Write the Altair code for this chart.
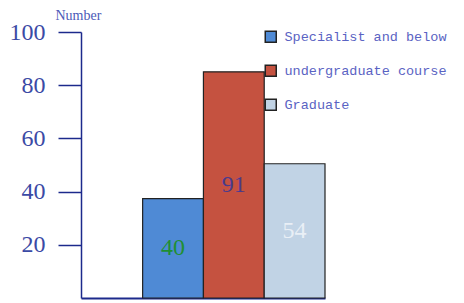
import altair as alt
import pandas as pd

categories = ["Specialist and below", "undergraduate course", "Graduate"]
values = [40, 91, 54]
label_text = ["40", "91", "54"]
tick_values = [20, 40, 60, 80, 100]

bar_colors = ["#4f8ad5", "#c55240", "#c1d3e5"]
label_colors = ["#1f8f33", "#4a3a8c", "#e9eff6"]

df = pd.DataFrame({"category": categories, "value": values, "label": label_text})
ticks_df = pd.DataFrame({"tick": tick_values})

x_enc = alt.X(
    "category:N",
    sort=categories,
    scale=alt.Scale(paddingInner=0, paddingOuter=0.507, align=1),
    axis=alt.Axis(title=None, labels=False, ticks=False, domainColor="#1c2a8c", domainWidth=2),
)

bars = alt.Chart(df).mark_bar(stroke="#222222", strokeWidth=1.2).encode(
    x=x_enc,
    y=alt.Y("value:Q", scale=alt.Scale(domain=[0, 107]), axis=None),
    color=alt.Color(
        "category:N",
        sort=categories,
        scale=alt.Scale(domain=categories, range=bar_colors),
        legend=alt.Legend(
            title=None,
            orient="none",
            legendX=183,
            legendY=-2,
            symbolType="square",
            symbolSize=121,
            symbolStrokeColor="#222222",
            symbolStrokeWidth=1.5,
            symbolOpacity=1,
            labelFont="Liberation Mono",
            labelFontSize=13.5,
            labelColor="#5a63c3",
            labelOffset=7,
            labelLimit=300,
            rowPadding=16,
            padding=0,
        ),
    ),
)

texts = alt.Chart(df).transform_calculate(mid="datum.value / 2").mark_text(
    font="Liberation Serif", fontSize=24, baseline="middle", align="center"
).encode(
    x=x_enc,
    y=alt.Y("mid:Q", scale=alt.Scale(domain=[0, 107]), axis=None),
    text="label:N",
    color=alt.Color(
        "category:N",
        sort=categories,
        scale=alt.Scale(domain=categories, range=label_colors),
        legend=None,
    ),
)

axis_layer = alt.Chart(ticks_df).mark_point(opacity=0).encode(
    y=alt.Y(
        "tick:Q",
        scale=alt.Scale(domain=[0, 100]),
        axis=alt.Axis(
            orient="left",
            values=tick_values,
            title="Number",
            titleAngle=0,
            titleAlign="left",
            titleBaseline="middle",
            titleX=-26,
            titleY=-17,
            titleFont="Liberation Serif",
            titleFontSize=14,
            titleFontWeight="normal",
            titleColor="#4c5ab8",
            labelFont="Liberation Serif",
            labelFontSize=24,
            labelColor="#3b4aa5",
            labelPadding=13,
            tickSize=23,
            tickWidth=1.5,
            tickColor="#1c2a8c",
            domainColor="#1c2a8c",
            domainWidth=1.5,
            grid=False,
        ),
    )
)

chart = (
    alt.layer(bars, texts, axis_layer)
    .resolve_scale(y="independent", color="independent")
    .properties(
        width=244,
        height=266,
        autosize=alt.AutoSizeParams(type="none"),
        padding={"left": 73, "top": 24, "right": 131, "bottom": 2},
    )
    .configure_view(stroke=None)
)

chart.save("out.html", embed_options={"renderer": "svg", "actions": False})
